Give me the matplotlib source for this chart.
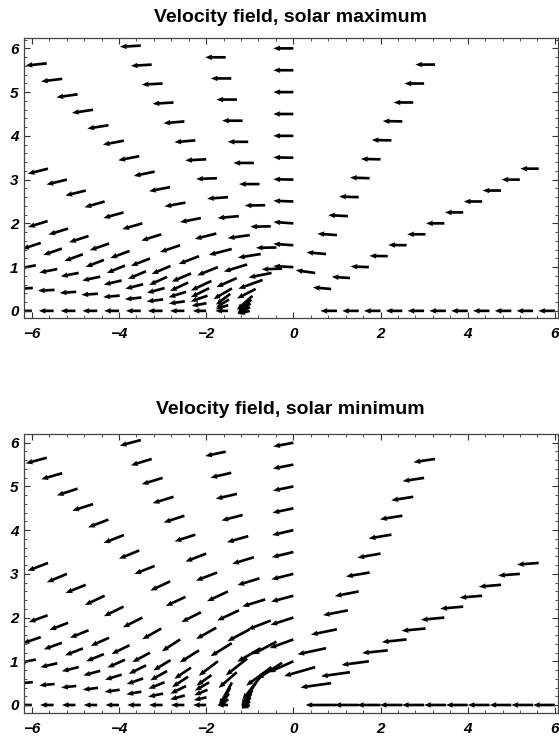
import numpy as np
import matplotlib
matplotlib.use("Agg")
import matplotlib.pyplot as plt
from matplotlib.ticker import MultipleLocator, FixedLocator

# ---------------- data ----------------
# Sample points lie on rays from the origin (angle in degrees),
# at radii 1.0, 1.5, 2.0, ... (as many as listed for each ray).
RADII = [1.0, 1.5, 2.0, 2.5, 3.0, 3.5, 4.0, 4.5, 5.0, 5.5, 6.0, 6.5, 7.0, 7.5, 8.0]
RAY_ANGLES = [0, 30, 60, 90, 105, 120, 135, 150, 160, 165, 170, 175, 180]

# Arrow tilt (degrees below the leftward horizontal) and arrow length, solar maximum
max_tilt_000 = [0] * 11
max_tilt_030 = [-5, -4, -2, -1, -1, 0, 0, 0, 0, 0, 0, 0]
max_tilt_060 = [-8, -5, -4, -3, -2, -2, -1, -1, -1, 0, 0, 0]
max_tilt_090 = [-3, -4, -4, -2, -1, -1, 0, 0, 0, 0, 0]
max_tilt_105 = [2, 1, 1, 1, 0, 0, 0, 0, 0, 0, 0]
max_tilt_120 = [11, 9, 8, 5, 4, 2, 3, 5, 5, 3.5, 3, 3.5, 3]
max_tilt_135 = [20, 17, 14.5, 14, 11, 10.5, 11, 11.5, 11, 10.5, 9, 8.5, 8, 7, 6]
max_tilt_150 = [27, 24, 21.7, 21, 18.7, 17.6, 16, 15.5, 16, 13.6, 13.5, 14]
max_tilt_160 = [42, 30, 25, 23, 23, 21, 20, 19, 17.6, 17, 17]
max_tilt_165 = [45, 37, 26, 25, 24, 23, 22, 21, 20, 19, 18]
max_tilt_170 = [41, 32, 19, 17, 15, 14, 13, 12, 11, 11, 11]
max_tilt_175 = [30, 18, 10, 8, 7, 6, 5, 4, 4, 3, 3]
max_tilt_180 = [15, 0, 0, 0, 0, 0, 0, 0, 0, 0, 0]

max_len_000 = [0.38] * 11
max_len_030 = [0.42] * 12
max_len_060 = [0.45] * 12
max_len_090 = [0.46] * 11
max_len_105 = [0.47] * 11
max_len_120 = [0.54, 0.53, 0.51, 0.49] + [0.48] * 9
max_len_135 = [0.59, 0.56, 0.54, 0.51] + [0.49] * 11
max_len_150 = [0.48, 0.51, 0.51, 0.50, 0.49] + [0.48] * 7
max_len_160 = [0.48, 0.49, 0.52, 0.48] + [0.47] * 7
max_len_165 = [0.45, 0.41, 0.47, 0.46] + [0.45] * 7
max_len_170 = [0.375, 0.35, 0.41, 0.42] + [0.42] * 7
max_len_175 = [0.31, 0.30, 0.35, 0.37] + [0.38] * 7
max_len_180 = [0.28, 0.29, 0.31, 0.33] + [0.34] * 7

# Solar minimum
min_tilt_000 = [0] * 11
min_tilt_030 = [8, 8, 7.6, 6, 6, 5.5, 5.5, 5, 5, 5, 4.5, 4.4]
min_tilt_060 = [16, 12, 11.6, 11, 11, 9.5, 10, 9.5, 9, 9, 8.6, 8.6]
min_tilt_090 = [24, 20, 17.7, 15, 14, 13.5, 13, 12, 11.5, 11, 10.5]
min_tilt_105 = [33, 28, 21, 17, 17, 17, 16, 14.5, 13, 13, 12]
min_tilt_120 = [36, 30, 28, 25, 25, 21, 21, 18, 18, 17, 17, 17, 15]
min_tilt_135 = [52, 38, 31.6, 29, 26.6, 25, 25, 21.6, 22, 21.6, 21, 17.6, 18, 16, 15]
min_tilt_150 = [58, 41, 37, 32, 33, 29.5, 26.6, 26, 25, 22, 22.7, 21]
min_tilt_160 = [60, 61, 35, 34, 31, 28, 26, 24, 22, 21, 20]
min_tilt_165 = [57, 58, 30, 33, 29, 26, 24, 22, 21, 20, 19]
min_tilt_170 = [52, 51, 22, 26, 22, 19, 17, 15, 14, 13, 12]
min_tilt_175 = [41, 36, 12, 15, 12, 10, 8, 7, 6, 5, 5]
min_tilt_180 = [23, 0, 0, 0, 0, 0, 0, 0, 0, 0, 0]

min_len_000 = [0.72, 0.56, 0.54, 0.52, 0.51, 0.5, 0.5, 0.5, 0.5, 0.5, 0.5]
min_len_030 = [0.71, 0.67, 0.63, 0.59, 0.57, 0.55, 0.54, 0.53, 0.52, 0.51, 0.5, 0.5]
min_len_060 = [0.74, 0.67, 0.61, 0.58, 0.56, 0.55, 0.54, 0.53, 0.52, 0.51, 0.5, 0.5]
min_len_090 = [0.62, 0.58, 0.55, 0.53, 0.52, 0.51, 0.5, 0.49, 0.48, 0.48, 0.47]
min_len_105 = [0.68, 0.62, 0.57, 0.55, 0.53, 0.52, 0.51, 0.5, 0.5, 0.49, 0.48]
min_len_120 = [0.72, 0.62, 0.58, 0.55, 0.53, 0.52, 0.51] + [0.5] * 6
min_len_135 = [0.75, 0.62, 0.57, 0.53] + [0.5] * 11
min_len_150 = [0.62, 0.55, 0.55, 0.52] + [0.5] * 8
min_len_160 = [0.48, 0.60, 0.42, 0.46] + [0.46] * 7
min_len_165 = [0.40, 0.48, 0.38, 0.44] + [0.44] * 7
min_len_170 = [0.32, 0.36, 0.33, 0.40] + [0.40] * 7
min_len_175 = [0.25, 0.26, 0.30, 0.35] + [0.35] * 7
min_len_180 = [0.20, 0.25, 0.30] + [0.31] * 8

MAX_TILTS = [max_tilt_000, max_tilt_030, max_tilt_060, max_tilt_090, max_tilt_105,
             max_tilt_120, max_tilt_135, max_tilt_150, max_tilt_160, max_tilt_165,
             max_tilt_170, max_tilt_175, max_tilt_180]
MAX_LENS = [max_len_000, max_len_030, max_len_060, max_len_090, max_len_105,
            max_len_120, max_len_135, max_len_150, max_len_160, max_len_165,
            max_len_170, max_len_175, max_len_180]
MIN_TILTS = [min_tilt_000, min_tilt_030, min_tilt_060, min_tilt_090, min_tilt_105,
             min_tilt_120, min_tilt_135, min_tilt_150, min_tilt_160, min_tilt_165,
             min_tilt_170, min_tilt_175, min_tilt_180]
MIN_LENS = [min_len_000, min_len_030, min_len_060, min_len_090, min_len_105,
            min_len_120, min_len_135, min_len_150, min_len_160, min_len_165,
            min_len_170, min_len_175, min_len_180]

TITLES = ["Velocity field, solar maximum", "Velocity field, solar minimum"]
X_TICKS = [-6, -4, -2, 0, 2, 4, 6]
Y_TICKS = [0, 1, 2, 3, 4, 5, 6]


def build(tilts, lens):
    X, Y, U, V = [], [], [], []
    for ang, tl, ln in zip(RAY_ANGLES, tilts, lens):
        a = np.deg2rad(ang)
        for r, t, L in zip(RADII, tl, ln):
            X.append(r * np.cos(a))
            Y.append(r * np.sin(a))
            tr = np.deg2rad(t)
            U.append(-L * np.cos(tr))
            V.append(-L * np.sin(tr))
    return np.array(X), np.array(Y), np.array(U), np.array(V)


W, H = 559, 744
fig = plt.figure(figsize=(W / 100, H / 100), dpi=100)

panels = [
    (TITLES[0], MAX_TILTS, MAX_LENS, [24 / W, 1 - 318.3 / H, 533.5 / W, 280 / H], (-0.17, 6.23), 17),
    (TITLES[1], MIN_TILTS, MIN_LENS, [24 / W, 1 - 713.3 / H, 533.5 / W, 279.3 / H], (-0.19, 6.2), 410),
]

for title, tilts, lens, rect, ylim, title_y in panels:
    ax = fig.add_axes(rect)
    X, Y, U, V = build(tilts, lens)
    ax.quiver(X, Y, U, V, angles="xy", scale_units="xy", scale=1, pivot="tail",
              color="black", width=0.0050, headwidth=2.1, headlength=2.6,
              headaxislength=2.4, minlength=0.1)
    ax.set_xlim(-6.18, 6.06)
    ax.set_ylim(*ylim)
    ax.xaxis.set_major_locator(FixedLocator(X_TICKS))
    ax.yaxis.set_major_locator(FixedLocator(Y_TICKS))
    ax.xaxis.set_minor_locator(MultipleLocator(0.4))
    ax.yaxis.set_minor_locator(MultipleLocator(0.2))
    ax.set_xticklabels([("\u2212" + str(-v)) if v < 0 else str(v) for v in X_TICKS],
                       family="Liberation Sans", style="italic", weight="bold", fontsize=11)
    ax.set_yticklabels([str(v) for v in Y_TICKS],
                       family="Liberation Sans", style="italic", weight="bold", fontsize=11)
    ax.tick_params(which="both", direction="in", top=True, right=True, color="#333333")
    ax.tick_params(which="major", length=4.5, width=0.8)
    ax.tick_params(which="minor", length=2.5, width=0.6)
    ax.tick_params(axis="x", pad=6)
    ax.tick_params(axis="y", pad=4)
    for s in ax.spines.values():
        s.set_linewidth(0.9)
        s.set_color("#444444")
    fig.text(0.5 * (24 + 557.5) / W, 1 - title_y / H, title, ha="center", va="center",
             family="Liberation Sans", weight="bold", fontsize=14)

fig.savefig("out.png", dpi=100)
